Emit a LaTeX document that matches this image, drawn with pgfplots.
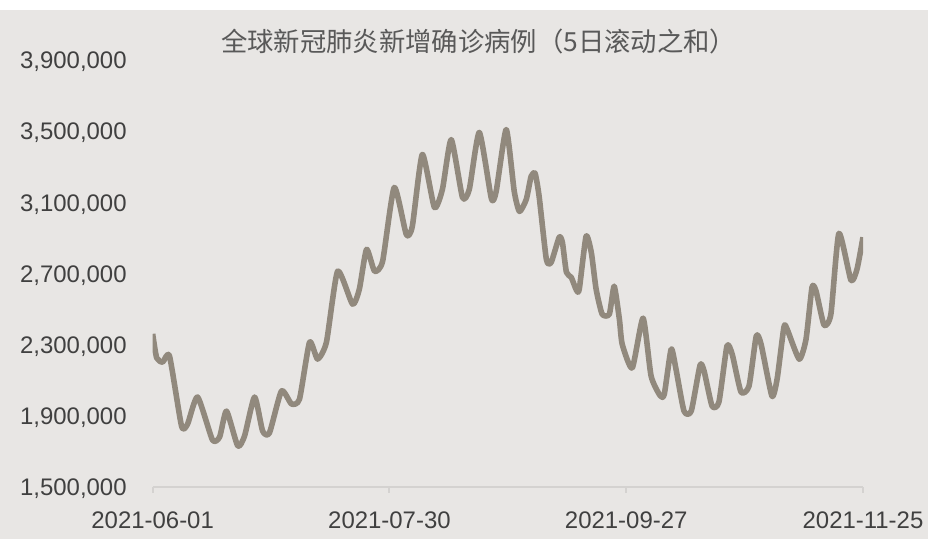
\documentclass[border=0pt]{standalone}
\usepackage{pgfplots}
\usepackage{pgfplotstable}
\pgfplotsset{compat=1.18}
\usepackage{fontspec}
\setmainfont{Liberation Sans}
\newfontfamily\cjk{Noto Sans CJK SC}
\definecolor{bg}{RGB}{232,230,228}
\definecolor{ln}{RGB}{145,137,125}
\definecolor{txt}{RGB}{64,64,64}
\definecolor{ttl}{RGB}{89,89,89}
\definecolor{axgray}{RGB}{212,210,208}

% 5-day rolling sum of new cases; x = days since 2021-06-01
\pgfplotstableread{
day value
0 2360000
1 2225000
2.5 2201000
4.2 2235000
7.2 1842000
8.7 1853000
11.2 2005000
14.9 1764000
16.7 1781000
18.4 1926000
21.2 1730000
22.9 1786000
25.4 2005000
27.4 1814000
29.1 1803000
32.1 2039000
34.6 1966000
36.6 1994000
39.1 2313000
41.1 2218000
43.3 2313000
46.1 2712000
49.8 2527000
51.5 2611000
53.3 2835000
55.3 2712000
57.3 2768000
60.2 3183000
63.2 2919000
64.7 2964000
67.2 3368000
70.2 3071000
72.2 3172000
74.4 3452000
77.2 3127000
78.9 3172000
81.4 3492000
84.4 3121000
85.6 3161000
88.1 3508000
90.1 3161000
91.4 3048000
93.1 3116000
94.3 3245000
95.3 3262000
96.3 3133000
98.1 2779000
99.3 2762000
101.3 2903000
102.1 2874000
103.1 2706000
104.3 2678000
105.6 2605000
106.3 2611000
108.0 2908000
109.3 2818000
110.5 2611000
112.0 2471000
113.8 2471000
115.0 2628000
116.3 2442000
117.0 2302000
119.5 2168000
122.2 2448000
124.2 2123000
126.5 2011000
127.5 2022000
129.2 2274000
130.4 2162000
132.4 1926000
134.2 1926000
136.4 2184000
137.4 2151000
139.4 1954000
141.1 1977000
143.1 2291000
144.4 2246000
146.6 2033000
148.6 2067000
150.4 2347000
151.6 2302000
154.3 2011000
155.6 2106000
157.3 2398000
158.1 2386000
161.1 2218000
162.8 2330000
164.3 2622000
165.3 2600000
167.3 2409000
169.0 2471000
171.0 2925000
174.0 2661000
175.5 2723000
177.0 2903000
}\casedata

\begin{document}
\begin{tikzpicture}
\fill[bg] (0,0) rectangle (465pt,265pt);
\fill[white] (0,265pt) rectangle (465pt,270pt);
\begin{axis}[
    at={(76.5pt,26pt)}, anchor=south west,
    scale only axis, width=356pt, height=214pt,
    xmin=0, xmax=177, ymin=1500000, ymax=3900000,
    axis x line=bottom, axis y line=left,
    x axis line style={draw=axgray, line width=1pt, -},
    y axis line style={draw=none},
    xtick={0,59,118,177},
    xticklabels={2021-06-01,2021-07-30,2021-09-27,2021-11-25},
    ytick={1500000,1900000,2300000,2700000,3100000,3500000,3900000},
    scaled y ticks=false,
    /pgf/number format/fixed, /pgf/number format/precision=0,
    /pgf/number format/1000 sep={,}, /pgf/number format/assume math mode=true,
    tick align=outside, major tick length=3pt,
    xtick style={draw=axgray, line width=1pt},
    ytick style={draw=none},
    ticklabel style={font=\fontsize{12}{14}\selectfont, text=txt},
    yticklabel style={xshift=-6.5pt, yshift=-1pt},
    xticklabel style={yshift=-6pt},
    title={\cjk 全球新冠肺炎新增确诊病例（5日滚动之和）},
    title style={at={(0.459,1)}, anchor=center, yshift=3pt, font=\fontsize{13.2}{15}\selectfont, text=ttl},
]
\addplot[ln, line width=2.8pt, line join=round, smooth, tension=0.35] table[x=day, y=value] {\casedata};
\end{axis}
\end{tikzpicture}
\end{document}
